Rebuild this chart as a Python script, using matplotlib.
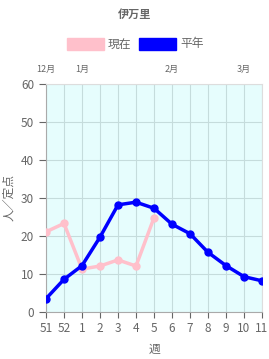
import matplotlib
matplotlib.use("Agg")
from matplotlib import pyplot as plt

plt.rcParams['font.family'] = ['Noto Sans CJK JP', 'DejaVu Sans']

weeks = ["51", "52", "1", "2", "3", "4", "5", "6", "7", "8", "9", "10", "11"]
current = [21.1, 23.3, 11.3, 12.1, 13.7, 12.1, 24.8]
normal = [3.5, 8.6, 12.2, 19.7, 28.2, 28.9, 27.3, 23.1, 20.6, 15.7, 12.2, 9.3, 8.2]
month_labels = ["12月", "1月", "2月", "3月"]
month_pos = [0, 2, 7, 11]

fig = plt.figure(figsize=(2.69, 3.59), dpi=100)
ax = fig.add_axes([46 / 269, 1 - 312 / 359, 216 / 269, 228 / 359])
ax.set_facecolor("#e6fdfd")

xs = list(range(len(weeks)))
ax.plot(xs[:len(current)], current, "-o", color="pink", lw=2.5, ms=5, zorder=3)
ax.plot(xs, normal, "-o", color="blue", lw=2.5, ms=5, zorder=4)

ax.set_xlim(0, len(weeks) - 1)
ax.set_ylim(0, 60)
ax.set_xticks(xs)
ax.set_xticklabels(weeks)
ax.set_yticks(range(0, 61, 10))
ax.grid(True, color="#c5dcdc", lw=0.8)
ax.tick_params(colors="#666666", labelsize=8.5, length=4, width=0.8)
ax.tick_params(axis="y", length=5)
for side in ["left", "bottom"]:
    ax.spines[side].set_color("#aaaaaa")
for side in ["top", "right"]:
    ax.spines[side].set_color("#dddddd")

fig.text(154 / 269, 1 - 349 / 359, "週", ha="center", va="center",
         fontsize=8.5, color="#666666")
fig.text(9 / 269, 1 - 197 / 359, "人／定点", ha="center", va="center",
         rotation=90, fontsize=8.5, color="#666666")

top = ax.twiny()
top.set_xlim(ax.get_xlim())
top.set_xticks(month_pos)
top.set_xticklabels(month_labels)
top.tick_params(colors="#666666", labelsize=6.5, length=0, pad=7)
for s in top.spines.values():
    s.set_visible(False)

fig.text(0.5, 1 - 14 / 359, "伊万里", ha="center", va="center",
         fontsize=8, fontweight="bold", color="#666666")

fig.patches.append(plt.Rectangle((67 / 269, 1 - 50 / 359), 37 / 269, 12 / 359,
                                 transform=fig.transFigure, color="pink"))
fig.text(108 / 269, 1 - 44 / 359, "現在", va="center", fontsize=8.5, color="#666666")
fig.patches.append(plt.Rectangle((139 / 269, 1 - 50 / 359), 37 / 269, 12 / 359,
                                 transform=fig.transFigure, color="blue"))
fig.text(180 / 269, 1 - 44 / 359, "平年", va="center", fontsize=8.5, color="#666666")

fig.savefig("out.png", dpi=100)
